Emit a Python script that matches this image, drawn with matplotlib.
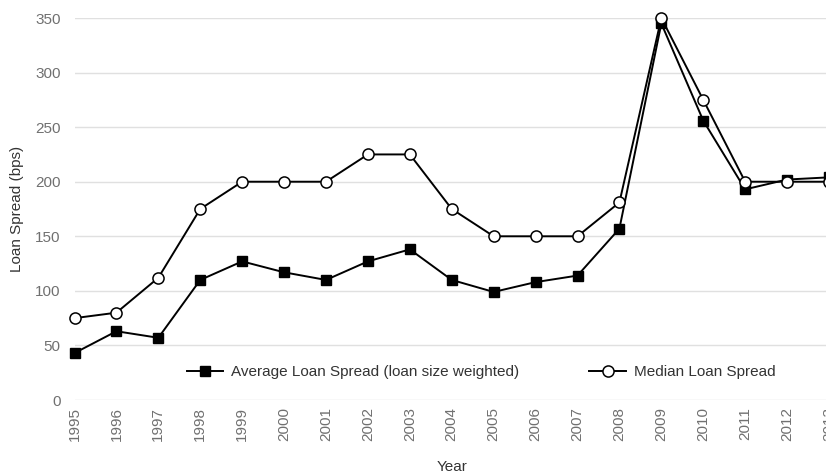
import matplotlib.pyplot as plt

plt.rcParams['font.family'] = ['Liberation Sans', 'DejaVu Sans']

years = list(range(1995, 2014))
avg_spread = [43, 63, 57, 110, 127, 117, 110, 127, 138, 110, 99, 108, 114, 157,
              345, 256, 193, 202, 204]
median_spread = [75, 80, 112, 175, 200, 200, 200, 225, 225, 175, 150, 150, 150, 181,
                 350, 275, 200, 200, 200]

fig = plt.figure(figsize=(8.26, 4.75), dpi=100)
# right edge sits a little past the figure, so the last year label is clipped
ax = fig.add_axes([74.5 / 826, 75 / 475, (829 - 74.5) / 826, 382 / 475])

ax.plot(years, avg_spread, color='black', lw=1.4, marker='s', markersize=7.5,
        markerfacecolor='black', label='Average Loan Spread (loan size weighted)',
        clip_on=False, zorder=3)
ax.plot(years, median_spread, color='black', lw=1.4, marker='o', markersize=8,
        markerfacecolor='white', markeredgewidth=1.1, label='Median Loan Spread',
        clip_on=False, zorder=4)

ax.set_xlim(1995, 2013)
ax.set_ylim(0, 350)
ax.set_xticks(years)
ax.set_xticklabels([str(y) for y in years], rotation=90)
ax.set_yticks(range(0, 351, 50))
ax.grid(axis='y', color='#e0e0e0', lw=1)
ax.set_axisbelow(True)
for s in ax.spines.values():
    s.set_visible(False)
ax.tick_params(length=0, colors='#707070', labelsize=11)
ax.tick_params(axis='y', pad=10)
ax.tick_params(axis='x', pad=5)

ax.set_xlabel('Year', color='#333333', fontsize=11, labelpad=14)
ax.set_ylabel('Loan Spread (bps)', color='#333333', fontsize=11, labelpad=8)

fig.legend(loc='center', bbox_to_anchor=(481 / 826, 1 - 372 / 475), ncol=2,
           frameon=False, fontsize=11, columnspacing=4.6, handlelength=2.4,
           handletextpad=0.5, labelcolor='#333333')

fig.savefig('out.png', dpi=100)
